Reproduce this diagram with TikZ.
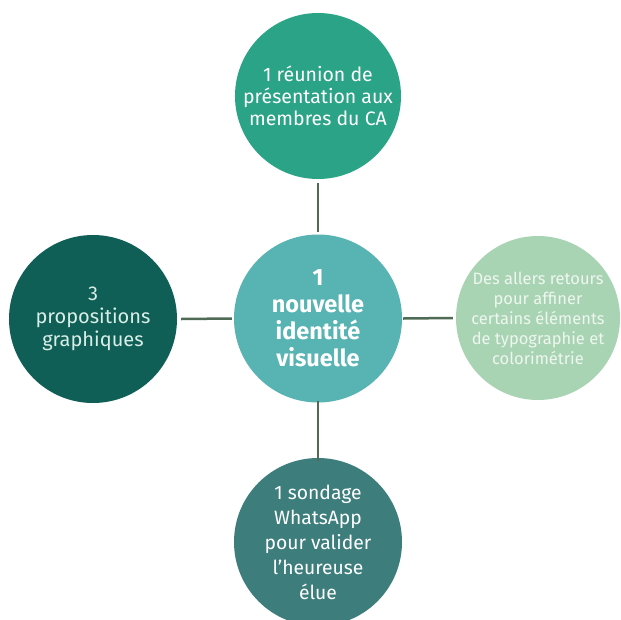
\documentclass[tikz,border=0pt]{standalone}
\usepackage{fontspec}
\setmainfont{Fira Sans}
\definecolor{ctop}{HTML}{2AA386}
\definecolor{ccenter}{HTML}{58B3B3}
\definecolor{cleft}{HTML}{0F5F57}
\definecolor{cright}{HTML}{A9D4B4}
\definecolor{cbottom}{HTML}{3D7E7C}
\definecolor{cline}{HTML}{4F6B55}
\definecolor{tleft}{HTML}{D8EEE6}
\definecolor{tright}{HTML}{EEF6EF}
\begin{document}
\begin{tikzpicture}[x=1pt,y=-1pt,
  bubble/.style={circle,minimum size=168pt,inner sep=0pt,align=center,text=white},
  link/.style={draw=cline,line width=2.5pt}]
\useasboundingbox (0,0) rectangle (621,619);
\fill[white] (0,0) rectangle (621,619);
\begin{scope}
\clip (0,0) rectangle (621,619);
\node[bubble,fill=ccenter,font=\bfseries\fontsize{23.5}{27}\selectfont] (c) at (318,318.5) {1\\nouvelle\\identité\\visuelle};
\node[bubble,fill=ctop,minimum size=166pt,font=\fontsize{19.5}{22}\selectfont] (t) at (318,96) {1 réunion de\\présentation aux\\membres du CA};
\node[bubble,fill=cleft,text=tleft,font=\fontsize{20}{23}\selectfont] (l) at (93,319) {3\\propositions\\graphiques};
\node[bubble,fill=cright,text=tright,minimum size=164pt,font=\fontsize{16.5}{20}\selectfont] (r) at (538,318) {Des allers retours\\pour affiner\\certains éléments\\de typographie et\\colorimétrie};
\node[bubble,fill=cbottom,font=\fontsize{19.3}{25}\selectfont] (b) at (318,542) {1 sondage\\WhatsApp\\pour valider\\l’heureuse\\élue};
\end{scope}
\path[link] ([yshift=-4pt]t.south) -- ([yshift=2pt]c.north);
\path[link] ([yshift=2pt]c.south) -- ([yshift=-3pt]b.north);
\path[link] ([xshift=4pt]l.east) -- ([xshift=-2pt]c.west);
\path[link] ([xshift=1pt]c.east) -- ([xshift=-3pt]r.west);
\end{tikzpicture}
\end{document}
